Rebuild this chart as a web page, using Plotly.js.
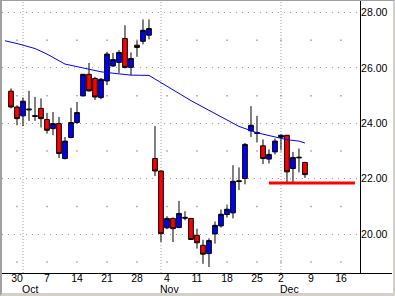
<!DOCTYPE html>
<html>
<head>
<meta charset="utf-8">
<script src="https://cdn.plot.ly/plotly-3.0.1.min.js"></script>
<style>
  html, body { margin: 0; padding: 0; background: #ffffff; }
  #chart { position: absolute; left: 0; top: 0; width: 395px; height: 296px; }
  #frame { position: absolute; left: 0; top: 0; width: 395px; height: 296px; box-sizing: border-box;
           border-top: 1px solid #a0a0a0; border-left: 2px solid #a0a0a0;
           border-right: 2px solid #d4d0c8; border-bottom: 3px solid #d4d0c8;
           pointer-events: none; z-index: 10; }
</style>
</head>
<body>
<div id="chart"></div>
<div id="frame"></div>
<script>
// Trading days shown on the axis (category scale)
const axisDays = [
  '2002-09-26','2002-09-27','2002-09-30',
  '2002-10-01','2002-10-02','2002-10-03','2002-10-04',
  '2002-10-07','2002-10-08','2002-10-09','2002-10-10','2002-10-11',
  '2002-10-14','2002-10-15','2002-10-16','2002-10-17','2002-10-18',
  '2002-10-21','2002-10-22','2002-10-23','2002-10-24','2002-10-25',
  '2002-10-28','2002-10-29','2002-10-30','2002-10-31','2002-11-01',
  '2002-11-04','2002-11-05','2002-11-06','2002-11-07','2002-11-08',
  '2002-11-11','2002-11-12','2002-11-13','2002-11-14','2002-11-15',
  '2002-11-18','2002-11-19','2002-11-20','2002-11-21','2002-11-22',
  '2002-11-25','2002-11-26','2002-11-27','2002-11-29',
  '2002-12-02','2002-12-03','2002-12-04','2002-12-05','2002-12-06',
  '2002-12-09','2002-12-10','2002-12-11','2002-12-12','2002-12-13',
  '2002-12-16','2002-12-17','2002-12-18','2002-12-19'
];

// Candle data
const dates = [
  '2002-09-27','2002-09-30',
  '2002-10-01','2002-10-02','2002-10-03','2002-10-04',
  '2002-10-07','2002-10-08','2002-10-09','2002-10-10','2002-10-11',
  '2002-10-14','2002-10-15','2002-10-16','2002-10-17','2002-10-18',
  '2002-10-21','2002-10-22','2002-10-23','2002-10-24','2002-10-25',
  '2002-10-28','2002-10-29','2002-10-30','2002-10-31','2002-11-01',
  '2002-11-04','2002-11-05','2002-11-06','2002-11-07','2002-11-08',
  '2002-11-11','2002-11-12','2002-11-13','2002-11-14','2002-11-15',
  '2002-11-18','2002-11-19','2002-11-20','2002-11-21','2002-11-22',
  '2002-11-25','2002-11-26','2002-11-27','2002-11-29',
  '2002-12-02','2002-12-03','2002-12-04','2002-12-05','2002-12-06'
];
const openP = [
  25.16, 24.59,
  24.27, 24.52, 24.28, 24.54,
  24.14, 23.81, 23.99, 22.73, 23.49,
  24.03, 24.99, 25.77, 25.62, 24.93,
  25.53, 26.07, 26.20, 27.06, 26.02,
  26.82, 26.96, 27.18, 22.73, 22.28,
  20.23, 20.57, 20.24, 20.61, 20.57,
  19.96, 19.60, 19.30, 20.01, 20.30,
  20.71, 20.77, 21.93, 22.01, 23.73,
  23.67, 23.19, 22.71, 22.97,
  23.50, 23.57, 22.37, 22.78, 22.59
];
const highP = [
  25.26, 24.65,
  24.93, 25.17, 24.95, 24.90,
  24.38, 24.41, 24.23, 23.51, 24.56,
  24.77, 25.78, 26.18, 25.68, 25.64,
  26.58, 26.54, 26.64, 27.54, 26.56,
  27.00, 27.75, 27.75, 23.90, 22.29,
  20.65, 20.60, 21.20, 20.83, 20.58,
  20.20, 19.80, 19.85, 20.46, 20.89,
  21.07, 22.49, 22.41, 23.29, 24.62,
  24.27, 23.42, 23.06, 23.45,
  23.60, 23.58, 22.97, 23.09, 22.61
];
const lowP = [
  24.54, 23.93,
  23.90, 24.09, 24.09, 23.85,
  23.63, 23.57, 22.75, 22.70, 23.46,
  23.97, 24.98, 25.15, 24.84, 24.87,
  25.38, 26.04, 25.82, 25.98, 25.74,
  26.40, 26.85, 27.03, 22.10, 19.72,
  20.18, 19.72, 20.22, 20.50, 19.80,
  19.48, 18.93, 18.82, 19.66, 20.24,
  20.60, 20.57, 21.59, 21.80, 23.51,
  23.31, 22.53, 22.55, 22.88,
  23.05, 21.87, 21.87, 22.23, 22.03
];
const closeP = [
  24.59, 24.17,
  24.80, 24.49, 24.25, 24.17,
  23.75, 23.99, 22.91, 23.36, 24.03,
  24.39, 25.77, 25.17, 24.95, 25.59,
  26.50, 26.30, 26.56, 26.02, 26.34,
  26.74, 27.36, 27.42, 22.28, 20.02,
  20.57, 20.20, 20.75, 20.58, 19.81,
  19.69, 19.28, 19.77, 20.32, 20.72,
  20.90, 21.91, 21.90, 23.24, 23.93,
  23.64, 22.73, 22.88, 23.36,
  23.57, 22.25, 22.77, 22.76, 22.15
];

// Moving average
const maDates = ['2002-09-26','2002-09-30','2002-10-03','2002-10-07','2002-10-10','2002-10-15',
  '2002-10-18','2002-10-22','2002-10-25','2002-10-30','2002-11-01','2002-11-05','2002-11-08',
  '2002-11-13','2002-11-15','2002-11-20','2002-11-25','2002-11-29','2002-12-03','2002-12-05','2002-12-06'];
const maValues = [26.98, 26.88, 26.70, 26.50, 26.14, 26.00,
  25.86, 25.81, 25.74, 25.73, 25.47, 25.20, 24.82,
  24.47, 24.24, 23.89, 23.66, 23.50, 23.41, 23.36, 23.29];

// Support line
const supportStart = '2002-11-27';
const supportEnd = '2002-12-18';
const supportLevel = 21.85;

// Axis labels
const tickDates = ['2002-09-30','2002-10-07','2002-10-14','2002-10-21','2002-10-28','2002-11-04',
  '2002-11-11','2002-11-18','2002-11-25','2002-12-02','2002-12-09','2002-12-16'];
const tickText = ['30','7','14','21','28','4','11','18','25','2','9','16'];
const monthStarts = ['2002-10-01','2002-11-01','2002-12-02'];
const monthNames = ['Oct','Nov','Dec'];
const priceTicks = [20, 22, 24, 26, 28];
const minorLevels = [19, 21, 23, 25, 27];

const idx = d => axisDays.indexOf(d);
const FONT = {family: '"Liberation Sans", Arial, sans-serif', size: 10.5, color: '#000000'};
const PLOT_W = 358, PLOT_H = 272;

const dotX = [], dotY = [];
tickDates.forEach(d => minorLevels.forEach(v => { dotX.push(d); dotY.push(v); }));

const traces = [
  {
    type: 'scatter', mode: 'markers', x: dotX, y: dotY,
    marker: {symbol: 'square', size: 1.5, color: '#a0a0a0', line: {width: 0}},
    hoverinfo: 'skip'
  },
  {
    type: 'scatter', mode: 'lines', x: maDates, y: maValues,
    line: {color: '#0000ff', width: 1}, hoverinfo: 'skip'
  },
  {
    type: 'candlestick', x: dates, open: openP, high: highP, low: lowP, close: closeP,
    increasing: {fillcolor: '#0000ff', line: {color: '#000000', width: 1}},
    decreasing: {fillcolor: '#ff0000', line: {color: '#000000', width: 1}},
    whiskerwidth: 0, hoverinfo: 'skip'
  }
];

const shapes = monthStarts.map(d => ({
  type: 'line', xref: 'x', yref: 'paper', x0: idx(d), x1: idx(d), y0: 0, y1: 1,
  line: {color: '#a0a0a0', width: 1, dash: '1px,2px'}, layer: 'below'
}));
shapes.push({
  type: 'line', xref: 'x', yref: 'y', x0: idx(supportStart), x1: idx(supportEnd) + 0.33,
  y0: supportLevel, y1: supportLevel, line: {color: '#ff0000', width: 3}
});
shapes.push({
  type: 'line', xref: 'paper', yref: 'paper', ysizemode: 'pixel', yanchor: 0,
  x0: 1, x1: 390 / PLOT_W, y0: -0.5, y1: -0.5, line: {color: '#000000', width: 1}
});

const annotations = monthStarts.map((d, k) => ({
  xref: 'x', yref: 'paper', x: idx(d), y: -15.5 / PLOT_H, xanchor: 'left', yanchor: 'middle',
  xshift: -2, text: monthNames[k], showarrow: false, font: FONT, borderpad: 0
}));

const layout = {
  width: 395, height: 296,
  margin: {l: 2, r: 35, t: 1, b: 23, pad: 0},
  paper_bgcolor: '#ffffff', plot_bgcolor: '#ffffff',
  showlegend: false, hovermode: false,
  boxgap: 0.22, boxgroupgap: 0,
  xaxis: {
    type: 'category', categoryorder: 'array', categoryarray: axisDays,
    range: [-0.5, 59.17], rangeslider: {visible: false},
    tickmode: 'array', tickvals: tickDates, ticktext: tickText,
    showgrid: false, zeroline: false, ticks: '', ticklabelstandoff: -5,
    showline: true, linecolor: '#000000', linewidth: 1,
    tickfont: FONT, fixedrange: true
  },
  yaxis: {
    side: 'right', range: [18.60, 28.415],
    tickmode: 'array', tickvals: priceTicks, ticktext: priceTicks.map(v => v.toFixed(2)),
    showgrid: true, gridcolor: '#a0a0a0', gridwidth: 1, griddash: '1px,5px',
    zeroline: false, ticks: '', ticklabelstandoff: -2,
    showline: true, linecolor: '#000000', linewidth: 1,
    tickfont: FONT, fixedrange: true
  },
  shapes: shapes,
  annotations: annotations
};

Plotly.newPlot('chart', traces, layout, {displayModeBar: false, staticPlot: true});
</script>
</body>
</html>
